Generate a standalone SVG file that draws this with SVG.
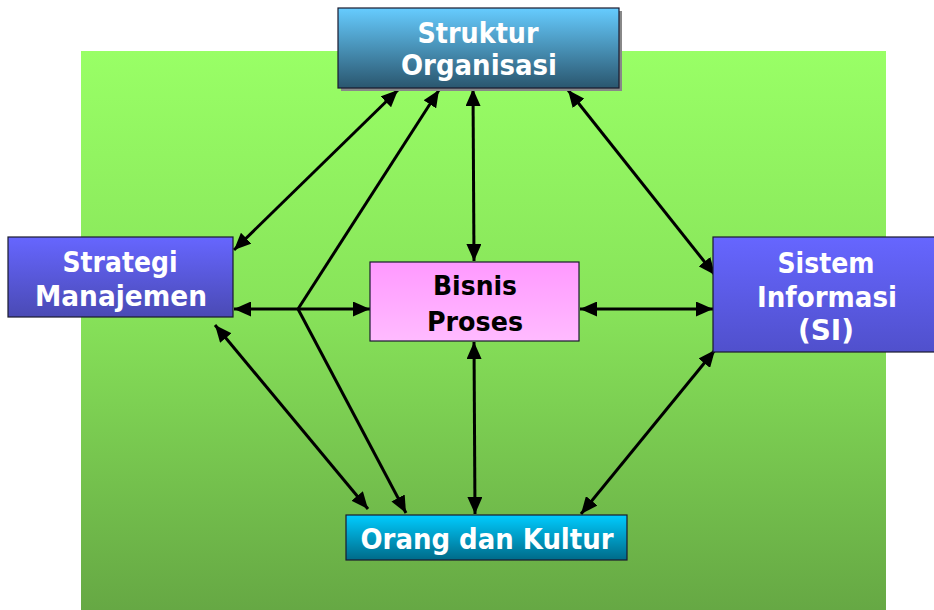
<svg xmlns="http://www.w3.org/2000/svg" width="934" height="610" viewBox="0 0 934 610">
  <defs>
    <linearGradient id="gBg" x1="0" y1="0" x2="0" y2="1">
      <stop offset="0" stop-color="#99FF66"/>
      <stop offset="0.45" stop-color="#88E45A"/>
      <stop offset="1" stop-color="#66A844"/>
    </linearGradient>
    <linearGradient id="gTeal" x1="0" y1="0" x2="0" y2="1">
      <stop offset="0" stop-color="#66CCFF"/>
      <stop offset="1" stop-color="#2A566E"/>
    </linearGradient>
    <linearGradient id="gBlue" x1="0" y1="0" x2="0" y2="1">
      <stop offset="0" stop-color="#6666FF"/>
      <stop offset="1" stop-color="#4A4AB4"/>
    </linearGradient>
    <linearGradient id="gBlue2" x1="0" y1="0" x2="0" y2="1">
      <stop offset="0" stop-color="#6666FF"/>
      <stop offset="1" stop-color="#5050CC"/>
    </linearGradient>
    <linearGradient id="gCyan" x1="0" y1="0" x2="0" y2="1">
      <stop offset="0" stop-color="#00CCFF"/>
      <stop offset="1" stop-color="#006A88"/>
    </linearGradient>
    <linearGradient id="gPink" x1="0" y1="0" x2="0" y2="1">
      <stop offset="0" stop-color="#FF99FF"/>
      <stop offset="1" stop-color="#FFBBFF"/>
    </linearGradient>
    <marker id="arr" viewBox="0 0 17 15" refX="17" refY="7.5" markerWidth="17" markerHeight="15" markerUnits="userSpaceOnUse" orient="auto-start-reverse">
      <path d="M0,0 L17,7.5 L0,15 Z" fill="#000"/>
    </marker>
  </defs>
  <style>
    .box { stroke: #1a1a2e; stroke-width: 1.2; }
    .lbl { font-family: "DejaVu Sans", Verdana, sans-serif; font-weight: bold; font-size: 28px; fill: #fff; text-anchor: middle; }
    .dark { fill: #000; font-size: 26px; }
    .conn line { stroke: #000; stroke-width: 3; fill: none; }
  </style>

  <!-- background panel -->
  <rect x="81" y="51" width="805" height="559" fill="url(#gBg)"/>

  <g class="conn" id="connectors">
    <line x1="398" y1="90" x2="234" y2="250" marker-start="url(#arr)" marker-end="url(#arr)"/>
    <line x1="298" y1="309" x2="439" y2="90" marker-end="url(#arr)"/>
    <line x1="473" y1="89" x2="474" y2="261" marker-start="url(#arr)" marker-end="url(#arr)"/>
    <line x1="568" y1="90" x2="715" y2="275" marker-start="url(#arr)" marker-end="url(#arr)"/>
    <line x1="234" y1="309" x2="370" y2="309" marker-start="url(#arr)" marker-end="url(#arr)"/>
    <line x1="298" y1="309" x2="406" y2="513" marker-end="url(#arr)"/>
    <line x1="215" y1="325" x2="368" y2="509" marker-start="url(#arr)" marker-end="url(#arr)"/>
    <line x1="474" y1="342" x2="475" y2="514" marker-start="url(#arr)" marker-end="url(#arr)"/>
    <line x1="580" y1="309" x2="713" y2="309" marker-start="url(#arr)" marker-end="url(#arr)"/>
    <line x1="715" y1="350" x2="581" y2="514" marker-start="url(#arr)" marker-end="url(#arr)"/>
  </g>

  <g id="struktur-organisasi">
    <rect x="341" y="11" width="281" height="80" fill="#888"/>
    <rect class="box" x="338" y="8" width="281" height="80" fill="url(#gTeal)"/>
    <text class="lbl" x="478" y="43" textLength="121" lengthAdjust="spacingAndGlyphs">Struktur</text>
    <text class="lbl" x="479" y="75" textLength="156" lengthAdjust="spacingAndGlyphs">Organisasi</text>
  </g>

  <g id="strategi-manajemen">
    <rect class="box" x="8" y="237" width="225" height="80" fill="url(#gBlue)"/>
    <text class="lbl" x="120" y="272" textLength="115" lengthAdjust="spacingAndGlyphs">Strategi</text>
    <text class="lbl" x="121" y="306" textLength="172" lengthAdjust="spacingAndGlyphs">Manajemen</text>
  </g>

  <g id="sistem-informasi">
    <rect class="box" x="713" y="237" width="225" height="115" fill="url(#gBlue2)"/>
    <text class="lbl" x="826" y="273" textLength="97" lengthAdjust="spacingAndGlyphs">Sistem</text>
    <text class="lbl" x="827" y="307" textLength="140" lengthAdjust="spacingAndGlyphs">Informasi</text>
    <text class="lbl" x="826" y="340" textLength="56" lengthAdjust="spacingAndGlyphs">(SI)</text>
  </g>

  <g id="bisnis-proses">
    <rect class="box" x="370" y="262" width="209" height="79" fill="url(#gPink)"/>
    <text class="lbl dark" x="475" y="295" textLength="84" lengthAdjust="spacingAndGlyphs">Bisnis</text>
    <text class="lbl dark" x="475" y="331" textLength="96" lengthAdjust="spacingAndGlyphs">Proses</text>
  </g>

  <g id="orang-dan-kultur">
    <rect class="box" x="346" y="515" width="281" height="45" fill="url(#gCyan)"/>
    <text class="lbl" x="487" y="549" textLength="253" lengthAdjust="spacingAndGlyphs">Orang dan Kultur</text>
  </g>
</svg>
